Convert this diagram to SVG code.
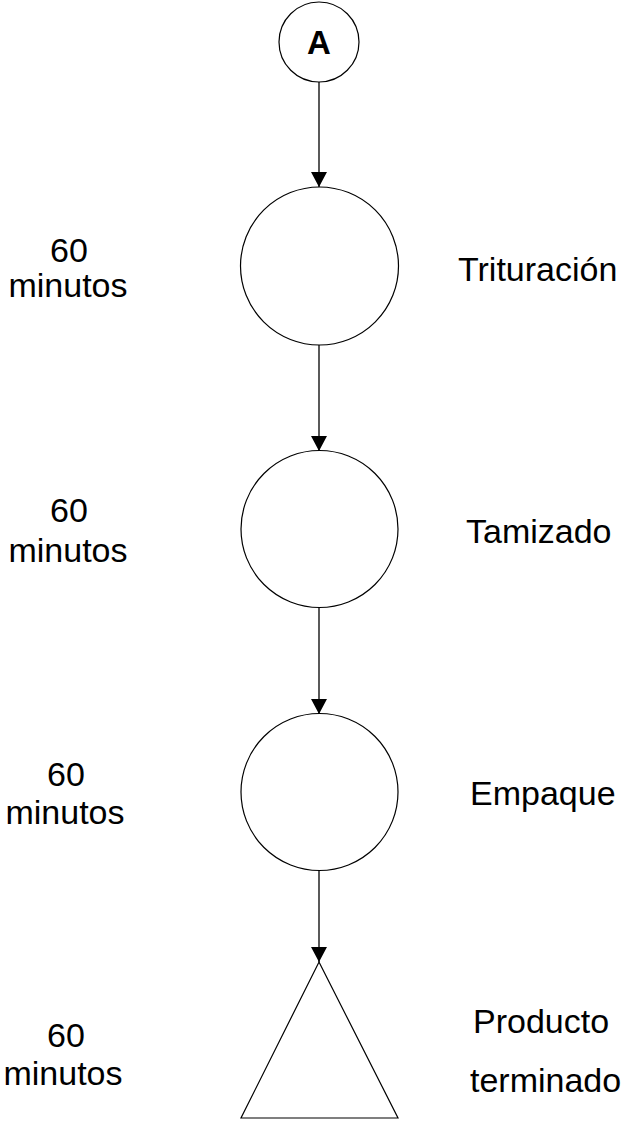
<svg xmlns="http://www.w3.org/2000/svg" width="621" height="1127" viewBox="0 0 621 1127">
  <style>
    .shape { fill: #ffffff; stroke: #000000; stroke-width: 1.2; }
    .flow { stroke: #000000; stroke-width: 1.3; fill: none; }
    .lbl { font-family: "Liberation Sans", Arial, sans-serif; font-size: 34px; fill: #000000; }
    .mid { text-anchor: middle; }
    .conn { font-family: "Liberation Sans", Arial, sans-serif; font-size: 33px; font-weight: bold; fill: #000000; text-anchor: middle; }
  </style>
  <defs>
    <marker id="arrow" markerUnits="userSpaceOnUse" markerWidth="16" markerHeight="16" viewBox="0 0 16 16" refX="15" refY="8" orient="auto">
      <path d="M0,0 L15,8 L0,16 Z" fill="#000000"/>
    </marker>
  </defs>

  <rect width="621" height="1127" fill="#ffffff"/>

  <!-- connectors between the steps -->
  <g id="connectors">
    <line class="flow" x1="319" y1="82" x2="319" y2="187" marker-end="url(#arrow)"/>
    <line class="flow" x1="319" y1="345" x2="319" y2="451" marker-end="url(#arrow)"/>
    <line class="flow" x1="319" y1="607" x2="319" y2="714" marker-end="url(#arrow)"/>
    <line class="flow" x1="319" y1="870" x2="319" y2="962" marker-end="url(#arrow)"/>
  </g>

  <!-- off-page connector A -->
  <g id="node-a">
    <circle class="shape" cx="319" cy="42" r="40"/>
    <text class="conn" x="319" y="54">A</text>
  </g>

  <!-- operation: Trituración -->
  <g id="node-trituracion">
    <circle class="shape" cx="319.5" cy="266" r="79"/>
    <text class="lbl mid" x="69" y="262">60</text>
    <text class="lbl mid" x="68" y="297">minutos</text>
    <text class="lbl" x="458" y="281">Trituración</text>
  </g>

  <!-- operation: Tamizado -->
  <g id="node-tamizado">
    <circle class="shape" cx="319.5" cy="529" r="78.5"/>
    <text class="lbl mid" x="69" y="522">60</text>
    <text class="lbl mid" x="68" y="562">minutos</text>
    <text class="lbl" x="466" y="543">Tamizado</text>
  </g>

  <!-- operation: Empaque -->
  <g id="node-empaque">
    <circle class="shape" cx="319.5" cy="792" r="78.5"/>
    <text class="lbl mid" x="66" y="786">60</text>
    <text class="lbl mid" x="65" y="824">minutos</text>
    <text class="lbl" x="470" y="805">Empaque</text>
  </g>

  <!-- storage: Producto terminado -->
  <g id="node-producto">
    <polygon class="shape" points="319,962 398,1118 241,1118"/>
    <text class="lbl mid" x="66" y="1047">60</text>
    <text class="lbl mid" x="63" y="1085">minutos</text>
    <text class="lbl" x="473" y="1033">Producto</text>
    <text class="lbl" x="470" y="1092">terminado</text>
  </g>
</svg>
